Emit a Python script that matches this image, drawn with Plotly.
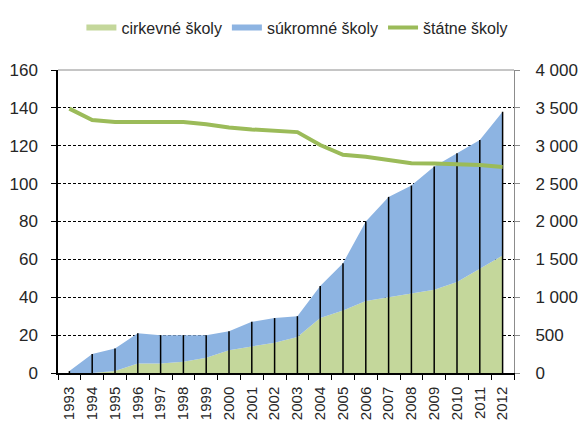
import plotly.graph_objects as go

years = [str(y) for y in range(1993, 2013)]
cirkevne = [0, 0, 1, 5, 5, 6, 8, 12, 14, 16, 19, 29, 33, 38, 40, 42, 44, 48, 55, 62]
sukromne = [1, 10, 12, 16, 15, 14, 12, 10, 13, 13, 11, 17, 25, 42, 53, 57, 65, 68, 68, 76]
statne = [3490, 3340, 3315, 3315, 3318, 3315, 3285, 3240, 3215, 3195, 3180, 3010, 2880,
          2855, 2810, 2770, 2765, 2755, 2745, 2720]
left_ticks = [0, 20, 40, 60, 80, 100, 120, 140, 160]
right_ticks = [0, 500, 1000, 1500, 2000, 2500, 3000, 3500, 4000]

totals = [a + b for a, b in zip(cirkevne, sukromne)]

FONT = "Arial, Liberation Sans, sans-serif"
TXT = "#262626"

fig = go.Figure()
fig.add_trace(go.Scatter(x=years, y=cirkevne, name="cirkevné školy", mode="none",
                         stackgroup="one", fillcolor="#c4d79b", hoverinfo="skip"))
fig.add_trace(go.Scatter(x=years, y=sukromne, name="súkromné školy", mode="none",
                         stackgroup="one", fillcolor="#8db4e2", hoverinfo="skip"))
# drop lines
fig.add_trace(go.Scatter(x=years, y=totals, mode="markers", marker=dict(size=0.1, opacity=0),
                         showlegend=False, hoverinfo="skip",
                         error_y=dict(type="data", symmetric=False, array=[0] * len(totals),
                                      arrayminus=totals, width=0, thickness=1.5, color="black")))
fig.add_trace(go.Scatter(x=years, y=statne, name="štátne školy", mode="lines",
                         line=dict(color="#9bbb59", width=4), yaxis="y2", hoverinfo="skip"))

fig.update_layout(
    width=580, height=426,
    margin=dict(l=58, r=66, t=70, b=53, autoexpand=False),
    paper_bgcolor="white", plot_bgcolor="white",
    font=dict(family=FONT, size=16, color=TXT),
    separators=", ",
    showlegend=True,
    legend=dict(orientation="h", x=0.525, xanchor="center", y=1.14, yanchor="middle",
                traceorder="normal", font=dict(size=16, color=TXT),
                tracegroupgap=0),
    xaxis=dict(type="category", range=[-0.5, 19.5], tickangle=-90, tickson="boundaries",
               ticks="outside", ticklen=5, tickcolor="black", showline=True,
               linecolor="black", linewidth=1.5, showgrid=False, automargin=False,
               ticklabelstandoff=6, tickfont=dict(size=15, color=TXT)),
    yaxis=dict(range=[0, 160], tickvals=left_ticks, ticks="outside", ticklen=5,
               tickcolor="black", showline=True, linecolor="black", linewidth=1.5,
               showgrid=True, gridcolor="black", gridwidth=1, griddash="3px,2px",
               zeroline=False, automargin=False, ticklabelstandoff=10,
               tickfont=dict(size=17, color=TXT)),
    yaxis2=dict(range=[0, 4000], tickvals=right_ticks, tickformat=",", overlaying="y",
                side="right", ticks="outside", ticklen=5, tickcolor="#8c8c8c",
                showline=True, linecolor="#8c8c8c", linewidth=1, showgrid=False,
                zeroline=False, automargin=False, ticklabelstandoff=12,
                tickfont=dict(size=17, color=TXT)),
    shapes=[dict(type="line", xref="paper", yref="paper", x0=0, x1=1, y0=1, y1=1,
                 line=dict(color="#8c8c8c", width=1))],
)

fig.write_html("out.html", config={"displayModeBar": False},
               post_script="document.body.style.margin='0px';")
